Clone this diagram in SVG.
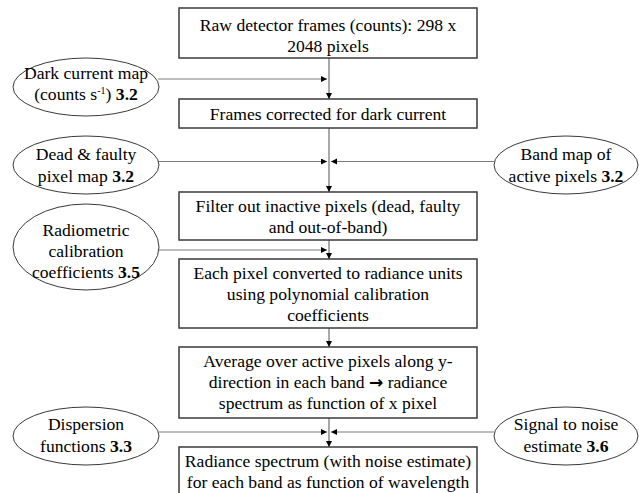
<svg xmlns="http://www.w3.org/2000/svg" width="639" height="493" viewBox="0 0 639 493">
<defs>
<style>
text{font-family:'Liberation Serif',serif;font-size:17.6px;text-anchor:middle;fill:#000}
.b{font-weight:bold}
.ar{font-family:'DejaVu Sans',sans-serif;font-weight:bold;font-size:17px}
.box{fill:#fff;stroke:#3a3a3a;stroke-width:1.5}
.ell{fill:#fff;stroke:#3a3a3a;stroke-width:1}
.v{stroke:#a8a8a8;stroke-width:2;fill:none}
.h{stroke:#7a7a7a;stroke-width:1.2;fill:none}
</style>
<marker id="ah" markerUnits="userSpaceOnUse" markerWidth="7" markerHeight="7" refX="6" refY="3" orient="auto">
<path d="M0,0 L6,3 L0,6 z" fill="#000"/>
</marker>
</defs>
<rect width="639" height="493" fill="#fff"/>
<g id="connectors">
<line class="v" x1="329" y1="58" x2="329" y2="99" marker-end="url(#ah)"/>
<line class="v" x1="329" y1="128" x2="329" y2="192" marker-end="url(#ah)"/>
<line class="v" x1="329" y1="240" x2="329" y2="259" marker-end="url(#ah)"/>
<line class="v" x1="329" y1="328" x2="329" y2="347" marker-end="url(#ah)"/>
<line class="v" x1="329" y1="418" x2="329" y2="447" marker-end="url(#ah)"/>
<line class="h" x1="158" y1="79" x2="327" y2="79" marker-end="url(#ah)"/>
<line class="h" x1="158" y1="161.5" x2="327" y2="161.5" marker-end="url(#ah)"/>
<line class="h" x1="494" y1="161.5" x2="331" y2="161.5" marker-end="url(#ah)"/>
<line class="h" x1="159" y1="250" x2="327" y2="250" marker-end="url(#ah)"/>
<line class="h" x1="159" y1="432" x2="327" y2="432" marker-end="url(#ah)"/>
<line class="h" x1="494" y1="432" x2="331" y2="432" marker-end="url(#ah)"/>
</g>
<g id="raw">
<rect class="box" x="179" y="8" width="298" height="50"/>
<text font-family="Liberation Serif" x="328" y="31">Raw detector frames (counts): 298 x</text>
<text font-family="Liberation Serif" x="328" y="52">2048 pixels</text>
</g>
<g id="dark">
<rect class="box" x="179" y="99" width="298" height="29"/>
<text font-family="Liberation Serif" x="328" y="120">Frames corrected for dark current</text>
</g>
<g id="filter">
<rect class="box" x="179" y="192" width="298" height="48"/>
<text font-family="Liberation Serif" x="328" y="212">Filter out inactive pixels (dead, faulty</text>
<text font-family="Liberation Serif" x="328" y="233">and out-of-band)</text>
</g>
<g id="radiance">
<rect class="box" x="179" y="259" width="298" height="69"/>
<text font-family="Liberation Serif" x="328" y="279">Each pixel converted to radiance units</text>
<text font-family="Liberation Serif" x="328" y="300">using polynomial calibration</text>
<text font-family="Liberation Serif" x="328" y="321">coefficients</text>
</g>
<g id="average">
<rect class="box" x="179" y="347" width="298" height="71"/>
<text font-family="Liberation Serif" x="328" y="367">Average over active pixels along y-</text>
<text font-family="Liberation Serif" x="328" y="388">direction in each band <tspan class="ar">→</tspan> radiance</text>
<text font-family="Liberation Serif" x="328" y="409">spectrum as function of x pixel</text>
</g>
<g id="spectrum">
<rect class="box" x="179" y="447" width="298" height="60"/>
<text font-family="Liberation Serif" x="328" y="467">Radiance spectrum (with noise estimate)</text>
<text font-family="Liberation Serif" x="328" y="488">for each band as function of wavelength</text>
</g>
<g id="darkmap">
<ellipse class="ell" cx="86" cy="87" rx="73" ry="29"/>
<text font-family="Liberation Serif" x="86" y="79">Dark current map</text>
<text font-family="Liberation Serif" x="86" y="100">(counts s<tspan font-size="10" dy="-6">-1</tspan><tspan dy="6">) </tspan><tspan class="b">3.2</tspan></text>
</g>
<g id="deadmap">
<ellipse class="ell" cx="86" cy="165" rx="73" ry="29"/>
<text font-family="Liberation Serif" x="86" y="160">Dead &amp; faulty</text>
<text font-family="Liberation Serif" x="86" y="182">pixel map <tspan class="b">3.2</tspan></text>
</g>
<g id="bandmap">
<ellipse class="ell" cx="566" cy="165" rx="72" ry="29"/>
<text font-family="Liberation Serif" x="566" y="160">Band map of</text>
<text font-family="Liberation Serif" x="566" y="182">active pixels <tspan class="b">3.2</tspan></text>
</g>
<g id="radiometric">
<ellipse class="ell" cx="86" cy="247" rx="73" ry="43"/>
<text font-family="Liberation Serif" x="86" y="236">Radiometric</text>
<text font-family="Liberation Serif" x="86" y="257">calibration</text>
<text font-family="Liberation Serif" x="86" y="278">coefficients <tspan class="b">3.5</tspan></text>
</g>
<g id="dispersion">
<ellipse class="ell" cx="86" cy="436" rx="73" ry="29"/>
<text font-family="Liberation Serif" x="86" y="430">Dispersion</text>
<text font-family="Liberation Serif" x="86" y="452">functions <tspan class="b">3.3</tspan></text>
</g>
<g id="snr">
<ellipse class="ell" cx="566" cy="436" rx="72" ry="29"/>
<text font-family="Liberation Serif" x="566" y="430">Signal to noise</text>
<text font-family="Liberation Serif" x="566" y="452">estimate <tspan class="b">3.6</tspan></text>
</g>
</svg>
